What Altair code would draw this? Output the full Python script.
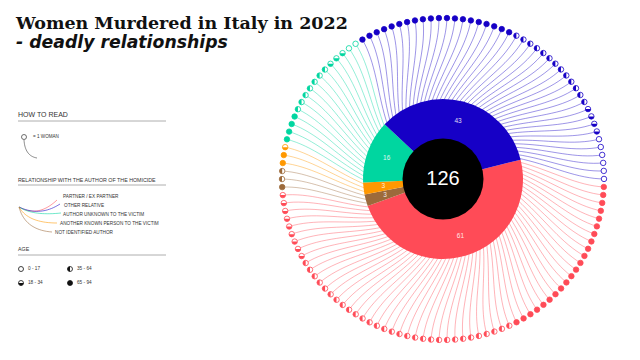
import math
import numpy as np
import pandas as pd
import altair as alt

# ---------------- data ----------------
relations = ["PARTNER / EX PARTNER", "NOT IDENTIFIED AUTHOR",
             "ANOTHER KNOWN PERSON  TO THE VICTIM", "AUTHOR UNKNOWN TO THE VICTIM",
             "OTHER RELATIVE"]
colors = ["#ff4b57", "#9c6a3b", "#ff9800", "#00d6a0", "#1600c6"]
totals = [61, 3, 3, 16, 43]
age_labels = ["65 - 94", "35 - 64", "18 - 34", "0 - 17"]
age_65_94 = [22, 1, 2, 4, 20]
age_35_64 = [30, 2, 0, 7, 13]
age_18_34 = [9, 0, 1, 3, 4]
age_0_17 = [0, 0, 0, 2, 6]

legend_order = ["PARTNER / EX PARTNER", "OTHER RELATIVE", "AUTHOR UNKNOWN TO THE VICTIM",
                "ANOTHER KNOWN PERSON  TO THE VICTIM", "NOT IDENTIFIED AUTHOR"]

# ---------------- layout constants ----------------
TOTAL = sum(totals)
CX, CY = 443.0, 179.0          # centre (page pixels)
R_DOT, R_OUT, R_IN, R_LAB = 161.0, 80.0, 40.5, 60.0
DOT_START, DONUT_START = 91.4, 76.0   # degrees, clockwise from 12 o'clock
OFF = 8

xs = alt.Scale(domain=[OFF, 640 - OFF], range=[0, 624], nice=False, zero=False)
ys = alt.Scale(domain=[OFF, 360 - OFF], range=[0, 344], nice=False, zero=False)
col_scale = alt.Scale(domain=relations, range=colors)

HALF_LOW = "M -1 0 A 1 1 0 0 0 1 0 Z"
HALF_LEFT = "M 0 -1 A 1 1 0 0 0 0 1 Z"
shape_scale = alt.Scale(domain=["65 - 94", "35 - 64", "18 - 34"],
                        range=["circle", HALF_LEFT, HALF_LOW])

# ---------------- women (dots + lines) ----------------
step = 360.0 / TOTAL
rows, lrows = [], []
idx = 0
age_cols = [age_65_94, age_35_64, age_18_34, age_0_17]
for g, rel in enumerate(relations):
    for a, lab in enumerate(age_labels):
        for _ in range(age_cols[a][g]):
            th_d = DOT_START + (idx + 0.5) * step
            th_t = DONUT_START + (idx + 0.5) * step
            rd = math.radians(th_d)
            rows.append({"id": idx, "relation": rel, "age": lab,
                         "x": CX + R_DOT * math.sin(rd), "y": CY - R_DOT * math.cos(rd)})
            for k, t in enumerate(np.linspace(0, 1, 18)):
                r = R_DOT - t * (R_DOT - (R_OUT - 2))
                th = math.radians(th_d + (th_t - th_d) * t * t)
                lrows.append({"id": idx, "k": k, "relation": rel,
                              "x": CX + r * math.sin(th), "y": CY - r * math.cos(th)})
            idx += 1
women = pd.DataFrame(rows)
lines = pd.DataFrame(lrows)

donut = pd.DataFrame({"relation": relations, "count": totals, "ord": list(range(len(relations)))})

theta_enc = alt.Theta("count:Q", stack=True,
                      scale=alt.Scale(range=[math.radians(DONUT_START),
                                             math.radians(DONUT_START) + 2 * math.pi]))
cval = dict(x=alt.value(CX - OFF), y=alt.value(CY - OFF))

line_layer = alt.Chart(lines).mark_line(strokeWidth=0.7, opacity=0.6, interpolate="linear").encode(
    x=alt.X("x:Q", scale=xs, axis=None), y=alt.Y("y:Q", scale=ys, axis=None),
    detail="id:N", order="k:Q",
    color=alt.Color("relation:N", scale=col_scale, legend=None))

dot_out = alt.Chart(women).mark_point(shape="circle", fill="white", strokeWidth=0.8,
                                      size=30, opacity=1).encode(
    x=alt.X("x:Q", scale=xs), y=alt.Y("y:Q", scale=ys),
    stroke=alt.Stroke("relation:N", scale=col_scale, legend=None))

dot_fill = alt.Chart(women).transform_filter(alt.datum.age != "0 - 17").mark_point(
    filled=True, size=30, opacity=1, strokeWidth=0).encode(
    x=alt.X("x:Q", scale=xs), y=alt.Y("y:Q", scale=ys),
    shape=alt.Shape("age:N", scale=shape_scale, legend=None),
    fill=alt.Fill("relation:N", scale=col_scale, legend=None))

arc_layer = alt.Chart(donut).mark_arc(outerRadius=R_OUT, innerRadius=R_IN - 1).encode(
    theta=theta_enc, order=alt.Order("ord:Q"),
    color=alt.Color("relation:N", scale=col_scale, legend=None), **cval)

arc_labels = alt.Chart(donut).mark_text(radius=R_LAB, fontSize=6.5, color="white", opacity=0.85,
                                        font="Liberation Sans").encode(
    theta=theta_enc, order=alt.Order("ord:Q"), text="count:Q", **cval)

center_df = pd.DataFrame({"label": [str(TOTAL)]})
hole = alt.Chart(center_df).mark_arc(theta=0, theta2=2 * math.pi, radius=R_IN, color="black").encode(**cval)
center_txt = alt.Chart(center_df).mark_text(fontSize=20, color="white", font="Liberation Sans",
                                            baseline="middle", align="center").encode(
    text="label:N", **cval)

# ---------------- title ----------------
title_df = pd.DataFrame({"t": ["Women Murdered in Italy in 2022"], "x": [16], "y": [29]})
sub_df = pd.DataFrame({"t": ["- deadly relationships"], "x": [16], "y": [48]})
title1 = alt.Chart(title_df).mark_text(font="DejaVu Serif", fontWeight="bold", fontSize=17.5,
                                       align="left", baseline="alphabetic", color="#111").encode(
    x=alt.X("x:Q", scale=xs), y=alt.Y("y:Q", scale=ys), text="t:N")
title2 = alt.Chart(sub_df).mark_text(font="DejaVu Sans", fontWeight="bold", fontStyle="italic",
                                     fontSize=17.3, align="left", baseline="alphabetic",
                                     color="#111").encode(
    x=alt.X("x:Q", scale=xs), y=alt.Y("y:Q", scale=ys), text="t:N")

# ---------------- legend ----------------
leg_text = pd.DataFrame({
    "t": ["HOW TO READ", "= 1 WOMAN", "RELATIONSHIP WITH THE AUTHOR OF THE HOMICIDE"]
         + legend_order + ["AGE", "0 - 17", "35 - 64", "18 - 34", "65 - 94"],
    "x": [18, 33, 18, 63, 64, 63, 60, 55, 18, 28, 77, 28, 77],
    "y": [115, 137, 180, 197, 206, 215, 224, 233, 249, 269, 269, 283, 283],
    "fs": [7, 4.6, 5.3, 4.7, 4.7, 4.7, 4.7, 4.7, 5.3, 4.7, 4.7, 4.7, 4.7],
})
legend_txt = alt.Chart(leg_text).mark_text(font="Liberation Sans", align="left",
                                           baseline="middle", color="#333").encode(
    x=alt.X("x:Q", scale=xs), y=alt.Y("y:Q", scale=ys), text="t:N",
    size=alt.Size("fs:Q", scale=None, legend=None))

rules_df = pd.DataFrame({"x": [18, 18, 18], "x2": [166, 166, 166], "y": [121, 185, 255]})
legend_rules = alt.Chart(rules_df).mark_rule(color="#9a9a9a", strokeWidth=0.8).encode(
    x=alt.X("x:Q", scale=xs), x2="x2:Q", y=alt.Y("y:Q", scale=ys))

# legend curves (quadratic bezier from start / control / end)
curve_names = ["how"] + legend_order
curve_colors = ["#333333", "#ff4b57", "#1600c6", "#00d6a0", "#ff9800", "#9c6a3b"]
curve_start = [(24, 140)] + [(19, 207)] * 5
curve_ctrl = [(25, 156), (38, 218), (40, 217), (33, 216), (28, 223), (25, 230)]
curve_end = [(37, 158), (57, 200), (60, 204), (61, 213), (57, 223), (52, 232)]
crow = []
for n, p0, c, p1 in zip(curve_names, curve_start, curve_ctrl, curve_end):
    for k, t in enumerate(np.linspace(0, 1, 20)):
        crow.append({"c": n, "k": k,
                     "x": (1 - t) ** 2 * p0[0] + 2 * (1 - t) * t * c[0] + t ** 2 * p1[0],
                     "y": (1 - t) ** 2 * p0[1] + 2 * (1 - t) * t * c[1] + t ** 2 * p1[1]})
curves = pd.DataFrame(crow)
legend_curves = alt.Chart(curves).mark_line(strokeWidth=0.7, opacity=0.8).encode(
    x=alt.X("x:Q", scale=xs), y=alt.Y("y:Q", scale=ys), detail="c:N", order="k:Q",
    color=alt.Color("c:N", scale=alt.Scale(domain=curve_names, range=curve_colors), legend=None))

how_df = pd.DataFrame({"x": [24], "y": [137]})
how_dot = alt.Chart(how_df).mark_point(shape="circle", fill="white", stroke="#333",
                                       strokeWidth=0.7, size=25, opacity=1).encode(
    x=alt.X("x:Q", scale=xs), y=alt.Y("y:Q", scale=ys))

age_sym = pd.DataFrame({"age": ["0 - 17", "35 - 64", "18 - 34", "65 - 94"],
                        "x": [21, 70, 21, 70], "y": [269, 269, 283, 283]})
age_out = alt.Chart(age_sym).mark_point(shape="circle", fill="white", stroke="#111",
                                        strokeWidth=0.8, size=25, opacity=1).encode(
    x=alt.X("x:Q", scale=xs), y=alt.Y("y:Q", scale=ys))
age_fill = alt.Chart(age_sym).transform_filter(alt.datum.age != "0 - 17").mark_point(
    filled=True, size=25, opacity=1, color="#111", strokeWidth=0).encode(
    x=alt.X("x:Q", scale=xs), y=alt.Y("y:Q", scale=ys),
    shape=alt.Shape("age:N", scale=shape_scale, legend=None))

chart = alt.layer(
    line_layer, dot_out, dot_fill, arc_layer, hole, arc_labels, center_txt,
    title1, title2, legend_txt, legend_rules, legend_curves, how_dot, age_out, age_fill
).resolve_scale(color="independent").properties(
    width=624, height=344, padding=0, autosize=alt.AutoSizeParams(type="none"),
    background="white"
).configure_view(stroke=None)

chart.save("out.html", embed_options={"renderer": "svg", "actions": False})
